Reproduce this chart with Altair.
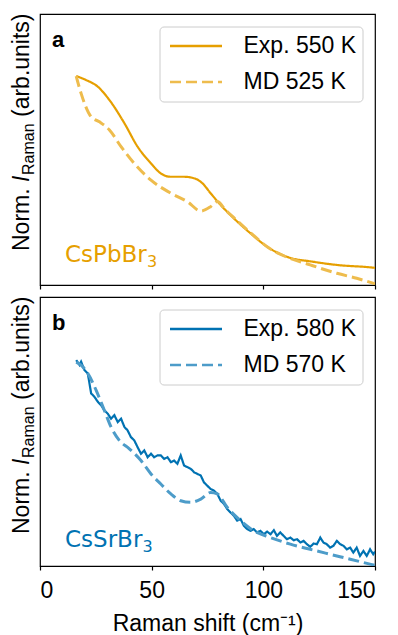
import altair as alt
import pandas as pd

X_TICKS = [0, 50, 100, 150]

# ---- Panel a: CsPbBr3 ----
a_exp_x = [16.2, 20.6, 25.9, 31.1, 37.8, 43.7, 49.7, 54.1, 58.6, 64.5, 69.0, 72.7, 76.4, 80.9,
           86.8, 94.3, 101.7, 110.6, 122.5, 132.9, 149.2, 150.0]
a_exp_y = [1.0, 0.981, 0.949, 0.885, 0.774, 0.662, 0.582, 0.534, 0.518, 0.518, 0.511, 0.487, 0.439, 0.383,
           0.319, 0.247, 0.183, 0.135, 0.111, 0.096, 0.083, 0.082]
a_md_x = [16.2, 18.4, 22.9, 26.6, 31.1, 36.3, 42.2, 49.7, 58.6, 66.0, 72.0, 76.4, 79.4, 83.0,
          86.8, 94.3, 101.7, 109.1, 121.0, 132.9, 141.8, 150.0]
a_md_y = [1.0, 0.917, 0.805, 0.781, 0.742, 0.662, 0.582, 0.502, 0.439, 0.399, 0.354, 0.375, 0.400, 0.360,
          0.322, 0.250, 0.183, 0.140, 0.096, 0.056, 0.032, 0.006]

# ---- Panel b: CsSrBr3 ----
b_exp_x = [16.2, 17.7, 18.4, 19.9, 21.4, 22.9, 24.4, 25.9, 27.4, 28.8, 30.3, 31.8, 33.3, 34.8, 36.3,
           37.8, 39.2, 40.7, 42.2, 43.7, 45.2, 46.7, 48.2, 49.7, 51.1, 52.6, 54.1, 55.6, 57.1, 58.6,
           60.1, 61.5, 63.0, 64.5, 66.0, 67.5, 69.0, 70.5, 72.0, 73.4, 74.9, 76.4, 77.9, 79.4, 80.9,
           82.4, 83.8, 85.3, 86.8, 88.3, 89.8, 91.3, 92.8, 94.3, 95.7, 97.2, 98.7, 100.2, 101.7, 103.2,
           104.7, 106.1, 107.6, 109.1, 110.6, 112.1, 113.6, 115.1, 116.6, 118.0, 119.5, 121.0, 122.5,
           124.0, 125.5, 126.9, 128.4, 129.9, 131.4, 132.9, 134.4, 135.9, 137.4, 138.9, 140.3, 141.8,
           143.3, 144.8, 146.3, 147.8, 149.2, 150.0]
b_exp_y = [1.0, 0.976, 0.992, 0.951, 0.935, 0.838, 0.821, 0.797, 0.780, 0.756, 0.740, 0.715, 0.732, 0.699, 0.715,
           0.675, 0.659, 0.626, 0.610, 0.577, 0.545, 0.561, 0.528, 0.545, 0.528, 0.537, 0.537, 0.520, 0.528, 0.504,
           0.512, 0.496, 0.537, 0.488, 0.480, 0.472, 0.455, 0.447, 0.439, 0.406, 0.390, 0.374, 0.366, 0.350, 0.317,
           0.301, 0.277, 0.260, 0.244, 0.220, 0.228, 0.195, 0.179, 0.171, 0.179, 0.163, 0.171, 0.154, 0.167, 0.154,
           0.174, 0.146, 0.163, 0.146, 0.130, 0.138, 0.125, 0.130, 0.114, 0.122, 0.106, 0.093, 0.109,
           0.106, 0.138, 0.114, 0.106, 0.089, 0.098, 0.122, 0.106, 0.098, 0.081, 0.089, 0.065, 0.089,
           0.049, 0.073, 0.049, 0.081, 0.057, 0.070]
b_md_x = [16.2, 18.4, 21.4, 25.1, 28.8, 31.8, 35.5, 40.0, 45.2, 49.7, 54.1, 58.6, 63.0, 67.5, 72.0,
          76.4, 79.4, 83.8, 89.8, 95.7, 103.2, 112.1, 121.0, 129.9, 138.9, 150.0]
b_md_y = [0.99, 0.975, 0.935, 0.854, 0.756, 0.675, 0.610, 0.569, 0.512, 0.447, 0.398, 0.350, 0.317, 0.309, 0.325,
          0.357, 0.350, 0.285, 0.220, 0.171, 0.138, 0.106, 0.081, 0.057, 0.033, 0.003]

LABELS_A = ["Exp. 550 K", "MD 525 K"]
LABELS_B = ["Exp. 580 K", "MD 570 K"]

ORANGE, ORANGE_MD = "#E69F00", "#EEBC4D"
BLUE, BLUE_MD = "#0072B2", "#4D9CC9"

FONT = "Liberation Sans"
FS = 23
W = 335


def txt(text, x, y, size=FS, color="black", font=FONT, weight="normal", style="normal", angle=0):
    return alt.Chart(alt.Data(values=[{}])).mark_text(
        text=text, font=font, fontSize=size, color=color, fontWeight=weight, fontStyle=style,
        angle=angle, align="left", baseline="alphabetic"
    ).encode(x=alt.value(x), y=alt.value(y))


def ytitle():
    return [
        txt("Norm.", -11, 237, angle=270),
        txt("I", -11, 168, style="italic", angle=270),
        txt("Raman", -6, 161, size=16, angle=270),
        txt("(arb.units)", -11, 103, angle=270),
    ]


def legend_box():
    return alt.Chart(alt.Data(values=[{}])).mark_rect(
        fill="white", fillOpacity=0.8, stroke="#cccccc", strokeWidth=1, cornerRadius=4
    ).encode(x=alt.value(120), x2=alt.value(323), y=alt.value(13), y2=alt.value(88))


def panel(exp_x, exp_y, md_x, md_y, labels, c_exp, c_md, letter, compound, sub_x, comp_y, ymax, height,
          bottom, exp_interp):
    df = pd.concat([
        pd.DataFrame({"x": exp_x, "y": exp_y, "s": labels[0]}),
        pd.DataFrame({"x": md_x, "y": md_y, "s": labels[1]}),
    ])
    axis_kw = dict(values=X_TICKS, tickSize=4, tickWidth=1.2, tickColor="black", domain=False, grid=False,
                   labels=bottom, labelFontSize=FS, labelColor="black", labelFont=FONT, labelPadding=9)
    if bottom:
        axis_kw.update(title="Raman shift (cm⁻¹)", titleFontSize=FS, titleFont=FONT,
                       titleFontWeight="normal", titleColor="black", titlePadding=10)
    else:
        axis_kw.update(title=None)
    leg = alt.Legend(title=None, orient="none", legendX=120, legendY=13,
                     symbolType="M-5.2,0H5.2", symbolSize=100, symbolStrokeWidth=2.5,
                     labelFont=FONT, labelFontSize=FS, labelColor="black", labelOffset=36,
                     symbolOffset=17, padding=7.5, rowPadding=12)
    enc = dict(
        x=alt.X("x:Q", scale=alt.Scale(domain=[0, 150], nice=False), axis=alt.Axis(**axis_kw)),
        y=alt.Y("y:Q", scale=alt.Scale(domain=[0, ymax], nice=False, zero=False), axis=None),
        color=alt.Color("s:N", scale=alt.Scale(domain=labels, range=[c_exp, c_md]), legend=leg),
        strokeDash=alt.StrokeDash("s:N", scale=alt.Scale(domain=labels, range=[[1, 0], [11, 5]]), legend=leg),
    )
    base = alt.Chart(df)
    exp_line = base.transform_filter(alt.datum.s == labels[0]).mark_line(
        strokeWidth=2.2, clip=True, interpolate=exp_interp).encode(**enc)
    md_line = base.transform_filter(alt.datum.s == labels[1]).mark_line(
        strokeWidth=3, clip=True, interpolate="monotone").encode(**enc)
    layers = [exp_line, md_line, legend_box(),
              txt(letter, 12, 33, size=22, weight="bold"),
              txt(compound, 25, comp_y, size=23, color=c_exp, font="DejaVu Sans"),
              txt("3", sub_x, comp_y + 5, size=16, color=c_exp, font="DejaVu Sans")] + ytitle()
    return alt.layer(*layers).properties(width=W, height=height)


pa = panel(a_exp_x, a_exp_y, a_md_x, a_md_y, LABELS_A, ORANGE, ORANGE_MD, "a", "CsPbBr", 107, 248,
           1.297, 271, False, "monotone")
pb = panel(b_exp_x, b_exp_y, b_md_x, b_md_y, LABELS_B, BLUE, BLUE_MD, "b", "CsSrBr", 102.5, 250,
           1.306, 269, True, "linear")

chart = alt.vconcat(pa, pb, spacing=12, bounds="flush").resolve_scale(
    color="independent", strokeDash="independent"
).properties(
    padding={"left": 10, "top": 12, "right": 2, "bottom": 2}
).configure(font=FONT).configure_view(stroke="black", strokeWidth=1.2)

chart.save("out.html", embed_options={"renderer": "svg", "actions": False})
